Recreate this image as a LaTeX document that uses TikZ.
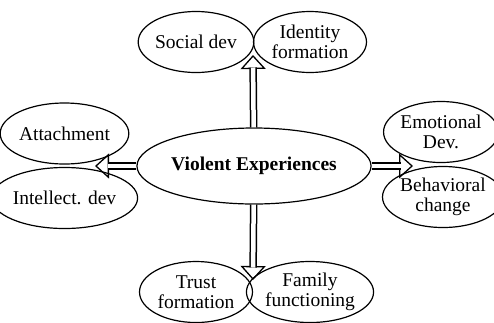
\documentclass[tikz,border=0pt]{standalone}
\usepackage{fontspec}
\setmainfont{Liberation Serif}
\usetikzlibrary{arrows.meta,shapes.geometric,calc}
\begin{document}
\begin{tikzpicture}[x=1pt, y=-1pt, font=\fontsize{19.5}{20.5}\selectfont, line join=round,
		blob/.style={draw, line width=1.2pt, ellipse, inner sep=0pt, minimum width=113pt, minimum height=61pt, align=center},
		shaft/.style={double, double distance=4.5pt, line width=1.5pt},
		head/.style={line width=1.3pt, -{Triangle[length=14pt,width=25pt,fill=white]}}]
				\useasboundingbox (0,0) rectangle (494,322);
				\node[blob, minimum width=177pt, minimum height=76pt, font=\fontsize{19.5}{20.5}\selectfont\bfseries] (V) at (254,166) {Violent Experiences};
				\path (253,55) coordinate (N)
				(95,166) coordinate (W)
				(413,166) coordinate (E)
				(253,280) coordinate (S);
				% arrow heads first, shafts over them
				\foreach \diem in {N, W, E, S} {
					\draw[head] ($(\diem)!14pt!(V)$) -- (\diem);
					\draw[shaft] (V) -- ($(\diem)!12.5pt!(V)$);
				}
				\foreach \nom/\x/\y/\txt in {soc/196/42/{Social dev}, ide/310/42/{Identity\\formation}, att/64.5/133.5/{Attachment}, int/64.5/198/{Intellect. dev}, emo/441/132/{Emotional\\Dev.}, beh/443/197/{Behavioral\\change}, tru/196/292/{Trust\\formation}, fam/310/292/{Family\\functioning}} \node[blob] (\nom) at (\x,\y) {\txt};
	\end{tikzpicture}
\end{document}
